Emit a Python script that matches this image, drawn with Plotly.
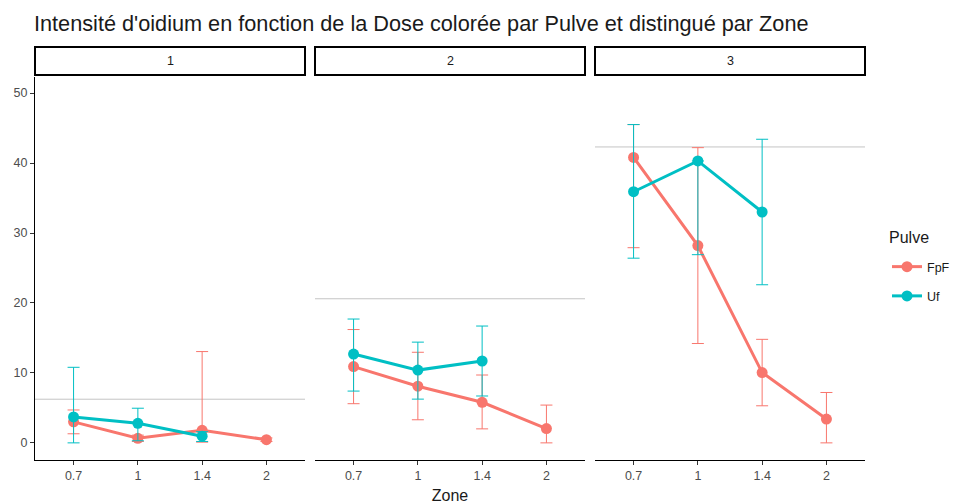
import plotly.graph_objects as go

doses = ["0.7", "1", "1.4", "2"]
zones = ["1", "2", "3"]
pulves = ["FpF", "Uf"]

# mean, lower, upper per zone for each Pulve
fpf_mean = [[3.0, 0.65, 1.8, 0.45], [10.9, 8.1, 5.8, 2.05], [40.8, 28.2, 10.05, 3.4]]
fpf_low = [[1.3, 0.2, 0.1, 0.2], [5.6, 3.3, 2.0, 0.0], [27.9, 14.2, 5.3, 0.0]]
fpf_high = [[4.7, 1.1, 13.05, 0.7], [16.2, 12.95, 9.7, 5.4], [45.5, 42.2, 14.8, 7.2]]

uf_mean = [[3.7, 2.8, 0.95, None], [12.7, 10.4, 11.7, None], [35.9, 40.3, 33.0, None]]
uf_low = [[0.0, 0.3, 0.2, None], [7.4, 6.25, 6.7, None], [26.4, 26.9, 22.6, None]]
uf_high = [[10.8, 4.95, 1.6, None], [17.7, 14.4, 16.7, None], [45.5, 40.3, 43.4, None]]

zone_ref = [6.24, 20.6, 42.3]

colors = {"FpF": "#F8766D", "Uf": "#00BFC4"}
series = {"FpF": (fpf_mean, fpf_low, fpf_high), "Uf": (uf_mean, uf_low, uf_high)}

FONT = "Liberation Sans, Arial, sans-serif"

W_PX = 830.0
domains = [[0, 270 / W_PX], [280 / W_PX, 550 / W_PX], [560 / W_PX, 1]]

fig = go.Figure()

for zi, z in enumerate(zones):
    xa = "x" if zi == 0 else f"x{zi+1}"
    ya = "y" if zi == 0 else f"y{zi+1}"
    for p in pulves:
        m, lo, hi = series[p]
        mm = m[zi]
        plus = [None if v is None else h - v for v, h in zip(mm, hi[zi])]
        minus = [None if v is None else v - l for v, l in zip(mm, lo[zi])]
        fig.add_trace(go.Scatter(
            x=list(range(len(doses))), y=mm, mode="lines+markers",
            name=p, legendgroup=p, showlegend=(zi == 0),
            line=dict(color=colors[p], width=3),
            marker=dict(color=colors[p], size=11),
            error_y=dict(type="data", symmetric=False, array=plus, arrayminus=minus,
                         color=colors[p], thickness=1, width=6),
            xaxis=xa, yaxis=ya, connectgaps=False,
        ))
    fig.add_shape(type="line", xref=f"{xa} domain", yref=ya, x0=0, x1=1,
                  y0=zone_ref[zi], y1=zone_ref[zi],
                  line=dict(color="#c4c4c4", width=1), layer="below")

layout = dict(
    width=957, height=504,
    margin=dict(l=35, r=92, t=77, b=44, autoexpand=False),
    paper_bgcolor="white", plot_bgcolor="white",
    font=dict(family=FONT, color="#4d4d4d", size=12),
    title=dict(text="Intensité d'oidium en fonction de la Dose colorée par Pulve et distingué par Zone",
               xref="container", yref="container",
               x=34 / 957, xanchor="left", y=1 - 23 / 504, yanchor="middle",
               font=dict(size=21.7, color="#1a1a1a", family=FONT)),
    showlegend=True,
    legend=dict(xref="container", yref="container",
                x=887 / 957, xanchor="left", y=1 - 252 / 504, yanchor="top",
                font=dict(size=12.5, color="#1a1a1a"), tracegroupgap=10,
                bgcolor="rgba(0,0,0,0)"),
)

for zi in range(3):
    sx = "" if zi == 0 else str(zi + 1)
    layout[f"xaxis{sx}"] = dict(
        domain=domains[zi], range=[-0.6, 3.6], automargin=False,
        tickmode="array", tickvals=list(range(len(doses))), ticktext=doses,
        showgrid=False, zeroline=False, showline=True, linecolor="black", linewidth=1.3,
        ticks="outside", ticklen=4, tickcolor="#333333",
        tickfont=dict(size=12.5, color="#4d4d4d"),
        anchor="y" if zi == 0 else f"y{zi+1}",
        title=dict(text="Zone" if zi == 1 else "", font=dict(size=16, color="#1a1a1a"), standoff=7),
    )
    layout[f"yaxis{sx}"] = dict(
        range=[-2.45, 52.3], showgrid=False, zeroline=False, automargin=False,
        anchor="x" if zi == 0 else f"x{zi+1}",
        showline=(zi == 0), linecolor="black", linewidth=1.3,
        ticks="outside" if zi == 0 else "", ticklen=4, tickcolor="#333333",
        showticklabels=(zi == 0), tickvals=[0, 10, 20, 30, 40, 50],
        tickfont=dict(size=12.5, color="#4d4d4d"),
    )
    if zi > 0:
        layout[f"yaxis{sx}"]["matches"] = "y"

fig.update_layout(**layout)

# legend title as annotation
fig.add_annotation(xref="paper", yref="paper", x=(887 - 35) / W_PX, y=(460 - 237) / 383.0,
                   text="Pulve", showarrow=False, xanchor="left", yanchor="middle",
                   font=dict(size=16, color="#1a1a1a"))

# strips
plot_h = 504 - 77 - 44
for zi, z in enumerate(zones):
    x0, x1 = domains[zi]
    y0 = 1 + (77 - 75) / plot_h
    y1 = 1 + (77 - 47) / plot_h
    fig.add_shape(type="rect", xref="paper", yref="paper", x0=x0, x1=x1, y0=y0, y1=y1,
                  line=dict(color="black", width=2), fillcolor="white")
    fig.add_annotation(xref="paper", yref="paper", x=(x0 + x1) / 2, y=(y0 + y1) / 2,
                       text=z, showarrow=False, font=dict(size=12.5, color="#1a1a1a"),
                       xanchor="center", yanchor="middle")

fig.write_html("out.html", config={"displayModeBar": False},
               post_script="document.body.style.margin='0';")
